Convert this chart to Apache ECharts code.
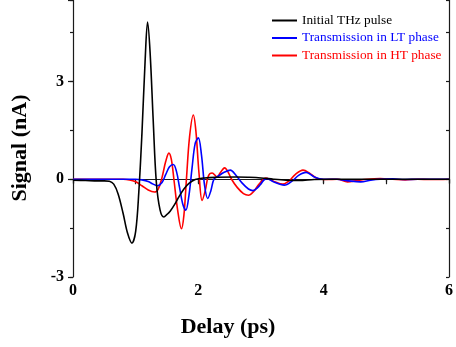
<!DOCTYPE html>
<html>
<head>
<meta charset="utf-8">
<script src="https://cdn.jsdelivr.net/npm/echarts@6/dist/echarts.min.js"></script>
<style>
  html, body { margin: 0; padding: 0; background: #fff; }
  #chart { width: 456px; height: 347px; }
</style>
</head>
<body>
<div id="chart"></div>
<script>
// THz waveforms: delay (ps) vs signal (nA)
const delayInitial = [0, 0.2, 0.4, 0.5, 0.58, 0.65, 0.72, 0.8, 0.87, 0.94, 1.0, 1.05, 1.1, 1.15, 1.19, 1.23, 1.28, 1.33, 1.39, 1.45, 1.5, 1.55, 1.62, 1.69, 1.77, 1.85, 1.95, 2.1, 2.3, 2.6, 2.8, 3.0, 3.2, 3.4, 3.6, 3.85, 4.1, 4.5, 5.0, 5.5, 6.0];
const signalInitial = [-0.03, -0.04, -0.05, -0.05, -0.06, -0.15, -0.45, -1.05, -1.65, -1.96, -1.6, -0.4, 1.4, 3.6, 4.82, 3.9, 1.8, -0.1, -0.95, -1.16, -1.08, -0.98, -0.78, -0.54, -0.3, -0.13, -0.01, 0.04, 0.06, 0.07, 0.06, 0.04, 0.0, -0.03, -0.04, -0.01, 0.0, 0.0, 0.0, 0.0, 0.0];

const delayLT = [0, 1.0, 1.1, 1.2, 1.28, 1.35, 1.42, 1.48, 1.54, 1.6, 1.65, 1.7, 1.75, 1.8, 1.85, 1.9, 1.95, 2.0, 2.05, 2.1, 2.15, 2.2, 2.25, 2.32, 2.42, 2.51, 2.6, 2.7, 2.8, 2.87, 2.95, 3.05, 3.1, 3.2, 3.37, 3.5, 3.6, 3.72, 3.85, 4.0, 4.2, 4.4, 4.59, 4.75, 4.9, 5.1, 5.3, 5.5, 6.0];
const signalLT = [0, 0, -0.02, -0.07, -0.15, -0.2, -0.1, 0.15, 0.38, 0.45, 0.25, -0.25, -0.75, -0.95, -0.5, 0.35, 1.1, 1.27, 0.75, -0.2, -0.59, -0.35, 0.0, 0.1, 0.22, 0.28, 0.12, -0.12, -0.3, -0.35, -0.25, -0.02, 0.02, -0.08, -0.18, -0.05, 0.12, 0.21, 0.07, 0.0, 0.0, -0.05, -0.08, -0.03, 0.0, 0.01, -0.01, 0.0, 0.0];

const delayHT = [0, 0.8, 0.9, 1.0, 1.1, 1.2, 1.3, 1.36, 1.42, 1.48, 1.53, 1.57, 1.61, 1.67, 1.73, 1.77, 1.81, 1.86, 1.92, 1.96, 2.01, 2.06, 2.11, 2.16, 2.22, 2.3, 2.35, 2.42, 2.48, 2.53, 2.62, 2.72, 2.8, 2.88, 2.97, 3.08, 3.2, 3.35, 3.45, 3.55, 3.67, 3.78, 3.9, 4.05, 4.22, 4.38, 4.53, 4.7, 4.9, 5.1, 5.3, 5.5, 5.7, 6.0];
const signalHT = [0, 0, -0.02, -0.08, -0.2, -0.33, -0.39, -0.3, 0.05, 0.55, 0.8, 0.6, 0.0, -0.95, -1.52, -1.1, 0.0, 1.3, 1.97, 1.5, 0.2, -0.65, -0.35, 0.1, 0.19, 0.07, 0.2, 0.35, 0.2, 0.0, -0.25, -0.44, -0.49, -0.38, -0.15, 0.04, -0.06, -0.15, -0.05, 0.15, 0.28, 0.18, 0.02, -0.01, 0.0, -0.08, -0.04, 0.0, 0.02, 0.0, -0.02, 0.0, -0.01, 0.0];

const seriesNames = ['Initial THz pulse', 'Transmission in LT phase', 'Transmission in HT phase'];
const seriesColors = ['#000000', '#0000ff', '#ff0000'];
const xTicks = [0, 2, 4, 6];
const yTicks = [-3, 0, 3];

const pairs = (xs, ys) => xs.map((x, i) => [x, ys[i]]);
const serif = '"Liberation Serif", "Times New Roman", serif';
const frame = { show: true, lineStyle: { color: '#1a1a1a', width: 1.2 } };

const chart = echarts.init(document.getElementById('chart'), null, { renderer: 'canvas' });

const yBase = { type: 'value', min: -3, max: 5.5, splitLine: { show: false } };
const xBase = { type: 'value', min: xTicks[0], max: xTicks[xTicks.length - 1], splitLine: { show: false } };

chart.setOption({
  animation: false,
  backgroundColor: '#ffffff',
  grid: { left: 73, right: 3, top: 0, bottom: 70 },
  legend: {
    orient: 'vertical',
    left: 272,
    top: 13,
    padding: 0,
    itemWidth: 25,
    itemHeight: 2,
    itemGap: 2.5,
    icon: 'rect',
    textStyle: { fontFamily: serif, fontSize: 13.3, lineHeight: 15, padding: [0, 0, 0, 0] },
    data: seriesNames.map((n, i) => ({ name: n, textStyle: { color: seriesColors[i] } }))
  },
  xAxis: [
    Object.assign({}, xBase, {
      position: 'bottom',
      interval: 2,
      axisLine: frame,
      axisTick: { show: true, inside: false, length: 4, lineStyle: { color: '#1a1a1a', width: 1.2 } },
      minorTick: { show: true, splitNumber: 2, length: 2.5, lineStyle: { color: '#1a1a1a', width: 1.2 } },
      axisLabel: { fontFamily: serif, fontWeight: 'bold', fontSize: 16, color: '#000', margin: 6 }
    }),
    Object.assign({}, xBase, {
      position: 'top',
      interval: 1,
      axisLine: frame,
      axisTick: { show: true, inside: true, length: 5, lineStyle: { color: '#1a1a1a', width: 1.2 } },
      axisLabel: { show: false }
    })
  ],
  yAxis: [
    Object.assign({}, yBase, {
      position: 'left',
      interval: 3,
      axisLine: frame,
      axisTick: { show: true, inside: false, length: 5, lineStyle: { color: '#1a1a1a', width: 1.2 } },
      axisLabel: {
        fontFamily: serif, fontWeight: 'bold', fontSize: 16, color: '#000', margin: 9,
        formatter: v => (yTicks.indexOf(v) >= 0 ? String(v) : '')
      }
    }),
    Object.assign({}, yBase, {
      position: 'left',
      interval: 1.5,
      axisLine: { show: false },
      axisTick: { show: true, inside: false, length: 3, lineStyle: { color: '#1a1a1a', width: 1.2 } },
      axisLabel: { show: false }
    }),
    Object.assign({}, yBase, {
      position: 'right',
      interval: 1.5,
      axisLine: frame,
      axisTick: { show: true, inside: true, length: 3, lineStyle: { color: '#1a1a1a', width: 1.2 } },
      axisLabel: { show: false }
    })
  ],
  graphic: [
    {
      type: 'text', left: 'center', top: 316,
      style: { text: 'Delay (ps)', font: 'bold 22px ' + serif, fill: '#000' },
      x: 31
    },
    {
      type: 'text', x: 9, y: 148, rotation: Math.PI / 2,
      style: { text: 'Signal (nA)', font: 'bold 22px ' + serif, fill: '#000', align: 'center', verticalAlign: 'top' }
    }
  ],
  series: [
    { name: seriesNames[0], data: pairs(delayInitial, signalInitial) },
    { name: seriesNames[1], data: pairs(delayLT, signalLT) },
    { name: seriesNames[2], data: pairs(delayHT, signalHT) }
  ].map((s, i) => Object.assign(s, {
    type: 'line',
    xAxisIndex: 0,
    yAxisIndex: 0,
    smooth: 0.35,
    showSymbol: false,
    z: 3 - i,
    lineStyle: { color: seriesColors[i], width: 1.6 },
    itemStyle: { color: seriesColors[i] }
  }))
});
</script>
</body>
</html>
